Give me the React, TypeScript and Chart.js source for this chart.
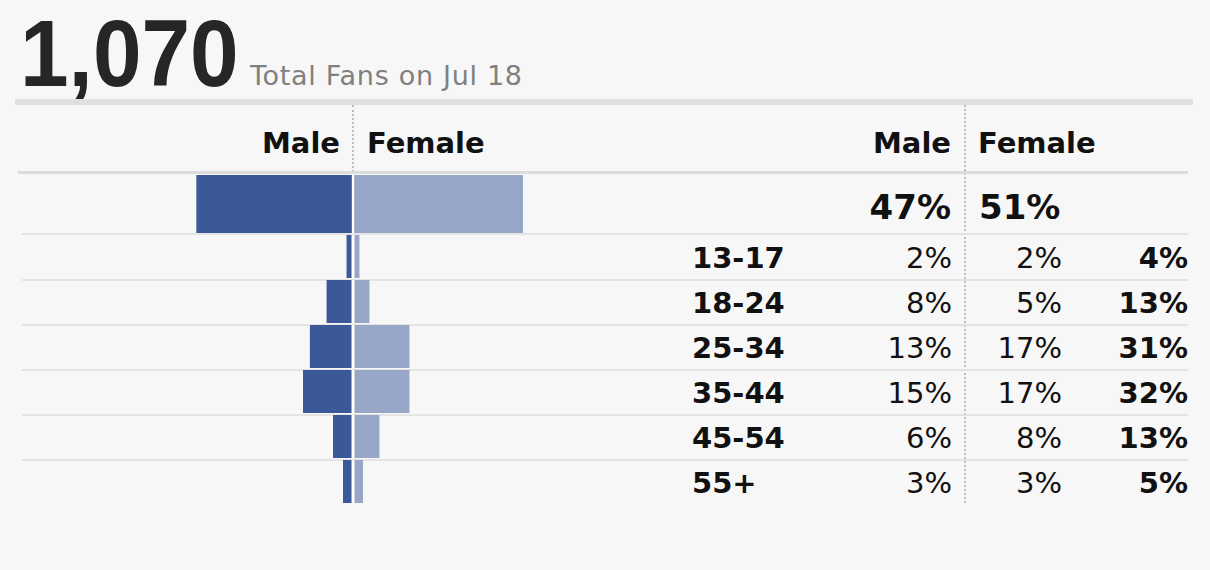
import React, { useEffect, useRef } from "react";
import { Chart, registerables } from "chart.js";

Chart.register(...registerables);

// ---- data ----
const totalFans = "1,070";
const totalFansCaption = "Total Fans on Jul 18";
const genderLabels = ["Male", "Female"];
const overallLabel = ["All"];
const overallMale = [47];
const overallFemale = [51];
const ageGroups = ["13-17", "18-24", "25-34", "35-44", "45-54", "55+"];
const maleShare = [2, 8, 13, 15, 6, 3];
const femaleShare = [2, 5, 17, 17, 8, 3];
const ageTotalShare = [4, 13, 31, 32, 13, 5];

const MALE_COLOR = "#3b5998";
const FEMALE_COLOR = "#98a7c8";
const FONT = '"DejaVu Sans", Verdana, sans-serif';

function PyramidChart(props: {
  labels: string[];
  male: number[];
  female: number[];
  width: number;
  height: number;
  barPercentage: number;
  style: React.CSSProperties;
}) {
  const ref = useRef<HTMLCanvasElement | null>(null);
  useEffect(() => {
    if (!ref.current) return;
    const chart = new Chart(ref.current, {
      type: "bar",
      data: {
        labels: props.labels,
        datasets: [
          {
            label: genderLabels[0],
            data: props.male.map((v) => -v),
            backgroundColor: MALE_COLOR,
            borderColor: "#ffffff",
            borderWidth: { left: 0, right: 1.5, top: 0, bottom: 0 },
            borderSkipped: false,
            grouped: false,
            barPercentage: props.barPercentage,
            categoryPercentage: 1,
          } as any,
          {
            label: genderLabels[1],
            data: props.female,
            backgroundColor: FEMALE_COLOR,
            borderColor: "#ffffff",
            borderWidth: { left: 1.5, right: 0, top: 0, bottom: 0 },
            borderSkipped: false,
            grouped: false,
            barPercentage: props.barPercentage,
            categoryPercentage: 1,
          } as any,
        ],
      },
      options: {
        indexAxis: "y",
        animation: false,
        responsive: false,
        maintainAspectRatio: false,
        devicePixelRatio: 1,
        layout: { padding: 0 },
        plugins: { legend: { display: false }, tooltip: { enabled: false } },
        scales: {
          x: { display: false, min: -60, max: 60 },
          y: { display: false },
        },
      },
    });
    return () => chart.destroy();
  }, []);
  return (
    <canvas
      ref={ref}
      width={props.width}
      height={props.height}
      style={{ position: "absolute", width: props.width, height: props.height, ...props.style }}
    />
  );
}

function Txt(props: {
  text: string;
  left?: number;
  right?: number;
  top: number;
  size: number;
  bold?: boolean;
  color?: string;
  family?: string;
  spacing?: number;
  scaleX?: number;
}) {
  const s: React.CSSProperties = {
    position: "absolute",
    top: props.top,
    fontSize: props.size,
    lineHeight: props.size + "px",
    fontWeight: props.bold ? 700 : 400,
    color: props.color || "#111",
    fontFamily: props.family || FONT,
    whiteSpace: "nowrap",
    letterSpacing: props.spacing ? props.spacing + "px" : undefined,
  };
  if (props.scaleX) {
    s.transform = `scaleX(${props.scaleX})`;
    s.transformOrigin = "left top";
  }
  if (props.left !== undefined) s.left = props.left;
  if (props.right !== undefined) {
    s.left = props.right - 300;
    s.width = 300;
    s.textAlign = "right";
  }
  return <div style={s}>{props.text}</div>;
}

export default function App() {
  useEffect(() => {
    document.body.style.margin = "0";
    document.body.style.background = "#f7f7f7";
  }, []);

  const rowTop = 234;
  const rowH = 45;
  const rowLines = [233, 279, 324, 369, 414, 459];

  return (
    <div style={{ position: "relative", width: 1210, height: 570, background: "#f7f7f7", overflow: "hidden" }}>
      {/* Title */}
      <Txt text={totalFans} left={20} top={6} size={95} bold color="#262626" family='"Liberation Sans", Arial, sans-serif' scaleX={0.92} />
      <Txt text={totalFansCaption} left={250} top={62} size={27} color="#808080" spacing={0.7} />
      <div style={{ position: "absolute", left: 15, top: 99, width: 1178, height: 6, background: "#e0e0e0" }} />

      {/* header */}
      <div style={{ position: "absolute", left: 352, top: 105, height: 67, borderLeft: "2px dotted #bdbdbd" }} />
      <div style={{ position: "absolute", left: 964, top: 105, height: 398, borderLeft: "2px dotted #bdbdbd" }} />
      <Txt text={genderLabels[0]} right={340} top={129} size={29} bold />
      <Txt text={genderLabels[1]} left={367} top={129} size={29} bold />
      <Txt text={genderLabels[0]} right={951} top={129} size={29} bold />
      <Txt text={genderLabels[1]} left={978} top={129} size={29} bold />
      <div style={{ position: "absolute", left: 18, top: 171, width: 1170, height: 3, background: "#dcdcdc" }} />

      {/* row lines */}
      {rowLines.map((y, i) => (
        <div key={i} style={{ position: "absolute", left: 22, top: y, width: 1166, height: 1.5, background: "#e4e4e4" }} />
      ))}

      {/* bars */}
      <PyramidChart
        labels={overallLabel}
        male={overallMale}
        female={overallFemale}
        width={400}
        height={58}
        barPercentage={1}
        style={{ left: 153, top: 175 }}
      />
      <PyramidChart
        labels={ageGroups}
        male={maleShare}
        female={femaleShare}
        width={400}
        height={rowH * ageGroups.length}
        barPercentage={43 / 45}
        style={{ left: 153, top: rowTop }}
      />

      {/* overall */}
      <Txt text={overallMale[0] + "%"} right={951} top={190} size={34} bold />
      <Txt text={overallFemale[0] + "%"} left={979} top={190} size={34} bold />

      {/* table rows */}
      {ageGroups.map((g, i) => {
        const top = 244 + i * rowH;
        return (
          <React.Fragment key={g}>
            <Txt text={g} left={692} top={top} size={29} bold />
            <Txt text={maleShare[i] + "%"} right={952} top={top} size={29} />
            <Txt text={femaleShare[i] + "%"} right={1062} top={top} size={29} />
            <Txt text={ageTotalShare[i] + "%"} right={1188} top={top} size={29} bold />
          </React.Fragment>
        );
      })}
    </div>
  );
}
